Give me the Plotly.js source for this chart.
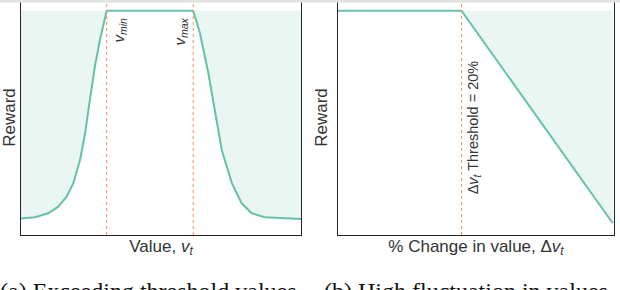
<!DOCTYPE html>
<html>
<head>
<meta charset="utf-8">
<script src="https://cdn.plot.ly/plotly-3.0.1.min.js"></script>
<style>html,body{margin:0;padding:0;background:#fff;}#chart{width:620px;height:290px;}</style>
</head>
<body>
<div id="chart"></div>
<script>
// ---- Data ----
// Panel (a): reward as a function of value v_t
var valueX = [0, 5.0, 9.75, 13.3, 16.3, 18.7, 21.1, 22.9, 24.6, 26.4, 28.2, 30.6,
              61.5, 63.9, 66.9, 69.3, 71.7, 75.3, 78.8, 82.4, 87.1, 100];
var valueReward = [0.0, 0.006, 0.025, 0.057, 0.105, 0.170, 0.282, 0.411, 0.571, 0.732, 0.860, 1.0,
                   1.0, 0.893, 0.700, 0.507, 0.330, 0.170, 0.073, 0.025, 0.006, -0.002];
var vMin = 30.6;
var vMax = 61.5;

// Panel (b): reward as a function of % change in value
var pctChange = [0, 20, 44.5];
var pctReward = [1.0, 1.0, -0.023];
var threshold = 20;

var maxReward = 1.0;

var green = '#66c2a5';
var fillGreen = 'rgba(102,194,165,0.14)';
var orange = '#fc8d62';
var spine = '#262626';
var txt = '#333333';
var sans = 'Liberation Sans, Arial, sans-serif';
var serif = 'Liberation Serif, Times New Roman, serif';

var traces = [
  {x: [valueX[0], valueX[valueX.length-1]], y: [maxReward, maxReward], xaxis: 'x', yaxis: 'y',
   mode: 'lines', line: {width: 0, color: 'rgba(0,0,0,0)'}, hoverinfo: 'skip', showlegend: false},
  {x: valueX, y: valueReward, xaxis: 'x', yaxis: 'y', mode: 'lines', fill: 'tonexty',
   fillcolor: fillGreen, line: {color: green, width: 2}, showlegend: false},
  {x: [pctChange[0], pctChange[pctChange.length-1]], y: [maxReward, maxReward], xaxis: 'x2', yaxis: 'y2',
   mode: 'lines', line: {width: 0, color: 'rgba(0,0,0,0)'}, hoverinfo: 'skip', showlegend: false},
  {x: pctChange, y: pctReward, xaxis: 'x2', yaxis: 'y2', mode: 'lines', fill: 'tonexty',
   fillcolor: fillGreen, line: {color: green, width: 2}, showlegend: false}
];

var yRange = [-0.0795, 1.0516];
var yDomain = [55/290, 1];

function xax(domain, range, title, anchor) {
  return {domain: domain, range: range, anchor: anchor, showgrid: false, zeroline: false,
          showticklabels: false, ticks: '', showline: true, linecolor: spine, linewidth: 1.3,
          fixedrange: true, automargin: false,
          title: {text: title, font: {family: sans, size: 17, color: txt}, standoff: 4}};
}
function yax(range, anchor) {
  return {domain: yDomain, range: range, anchor: anchor, showgrid: false, zeroline: false,
          showticklabels: false, ticks: '', showline: true, mirror: true, linecolor: spine,
          linewidth: 1.3, fixedrange: true, automargin: false,
          title: {text: 'Reward', font: {family: sans, size: 17, color: txt}, standoff: 4}};
}

var layout = {
  width: 620, height: 290,
  margin: {l: 0, r: 0, t: 0, b: 0},
  paper_bgcolor: '#fff', plot_bgcolor: 'rgba(0,0,0,0)',
  showlegend: false,
  xaxis: xax([21/620, 301/620], [0, 100], 'Value, <i>v</i><sub><i>t</i></sub>', 'y'),
  yaxis: yax(yRange, 'x'),
  xaxis2: xax([338/620, 614/620], [0, 44.7], '% Change in value, Δ<i>v</i><sub><i>t</i></sub>', 'y2'),
  yaxis2: yax(yRange, 'x2'),
  shapes: [
    {type: 'line', xref: 'x', yref: 'y domain', x0: vMin, x1: vMin, y0: 0, y1: 1,
     line: {color: orange, width: 1, dash: 'dot'}},
    {type: 'line', xref: 'x', yref: 'y domain', x0: vMax, x1: vMax, y0: 0, y1: 1,
     line: {color: orange, width: 1, dash: 'dot'}},
    {type: 'line', xref: 'x2', yref: 'y2 domain', x0: threshold, x1: threshold, y0: 0, y1: 1,
     line: {color: orange, width: 1, dash: 'dot'}},
    {type: 'rect', xref: 'paper', yref: 'paper', x0: 0, x1: 1, y0: 1 - 2.5/290, y1: 1,
     fillcolor: '#e2e2e2', line: {width: 0}}
  ],
  annotations: [
    {xref: 'x', yref: 'y', x: vMin, y: 0.975, xanchor: 'left', yanchor: 'top', xshift: 1,
     textangle: -90, showarrow: false, text: '<i>v</i><sub><i>min</i></sub>',
     font: {family: sans, size: 15, color: txt}},
    {xref: 'x', yref: 'y', x: vMax, y: 0.975, xanchor: 'right', yanchor: 'top', xshift: -1,
     textangle: -90, showarrow: false, text: '<i>v</i><sub><i>max</i></sub>',
     font: {family: sans, size: 15, color: txt}},
    {xref: 'x2', yref: 'y2', x: threshold, y: 0.441, xanchor: 'left', yanchor: 'middle', xshift: 1,
     textangle: -90, showarrow: false, text: 'Δ<i>v</i><sub><i>t</i></sub> Threshold = 20%',
     font: {family: sans, size: 14.5, color: txt}},
    {xref: 'paper', yref: 'paper', x: -2/620, y: 1 - 275.5/290, xanchor: 'left', yanchor: 'top',
     showarrow: false, text: '(a) Exceeding threshold values',
     font: {family: serif, size: 24, color: '#111'}},
    {xref: 'paper', yref: 'paper', x: 322/620, y: 1 - 275.5/290, xanchor: 'left', yanchor: 'top',
     showarrow: false, text: '(b) High fluctuation in values',
     font: {family: serif, size: 24, color: '#111'}}
  ]
};

Plotly.newPlot('chart', traces, layout, {staticPlot: true, displayModeBar: false});
</script>
</body>
</html>
